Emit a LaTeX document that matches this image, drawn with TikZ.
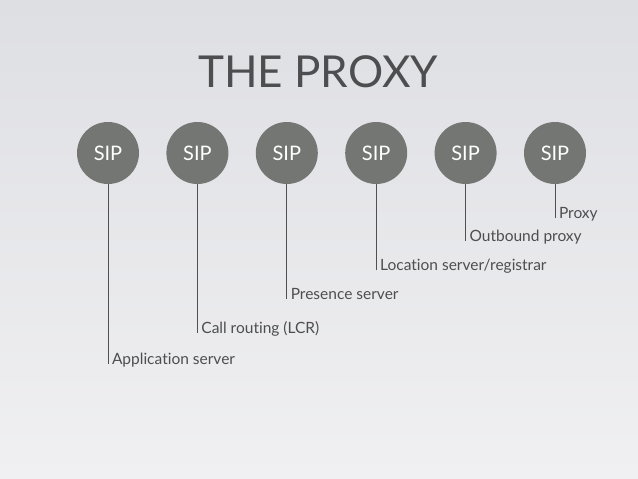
\documentclass[tikz,border=0pt]{standalone}
\usepackage{fontspec}
\setmainfont{Lato}[Ligatures=NoCommon]
\usetikzlibrary{positioning}
\definecolor{bgtop}{HTML}{DEDFE3}
\definecolor{bgbot}{HTML}{F0F0F2}
\definecolor{sipgray}{HTML}{747674}
\definecolor{txtgray}{HTML}{4E4E50}
\definecolor{linegray}{HTML}{505052}
\begin{document}
\begin{tikzpicture}[x=1pt,y=-1pt,node distance=89.4pt,line width=1pt]
          \tikzstyle{sip}=[circle,fill=sipgray,draw=none,minimum size=62pt,inner sep=0pt,outer sep=0pt,text=white,font=\fontsize{20}{20}\selectfont]
          \tikzstyle{lbl}=[anchor=base west,inner xsep=3.5pt,inner ysep=0pt,text=txtgray,font=\fontsize{15.5}{15.5}\selectfont]
          \shade[top color=bgtop,bottom color=bgbot] (0,0) rectangle (638,479);
          \useasboundingbox (0,0) rectangle (638,479);

          \node[anchor=base,text=txtgray,font=\fontsize{44}{44}\selectfont] (title) at (318,87) {THE PROXY};

          \node[sip] (s1) at (108,153) {SIP};
          \node[sip] (s2) [right=27.4pt of s1] {SIP};
          \node[sip] (s3) [right=27.4pt of s2] {SIP};
          \node[sip] (s4) [right=27.4pt of s3] {SIP};
          \node[sip] (s5) [right=27.4pt of s4] {SIP};
          \node[sip] (s6) [right=27.4pt of s5] {SIP};

          \node[lbl] (l1) at (s1 |- 0,364) {Application server};
          \node[lbl] (l2) at (s2 |- 0,333) {Call routing (LCR)};
          \node[lbl] (l3) at (s3 |- 0,299) {Presence server};
          \node[lbl] (l4) at (s4 |- 0,270) {Location server/registrar};
          \node[lbl] (l5) at (s5 |- 0,241) {Outbound proxy};
          \node[lbl] (l6) at (s6 |- 0,218) {Proxy};

          \path[draw=linegray] (s1) edge (l1.base west)
                (s2) edge (l2.base west)
                (s3) edge (l3.base west)
                (s4) edge (l4.base west)
                (s5) edge (l5.base west)
                (s6) edge (l6.base west);
\end{tikzpicture}
\end{document}
